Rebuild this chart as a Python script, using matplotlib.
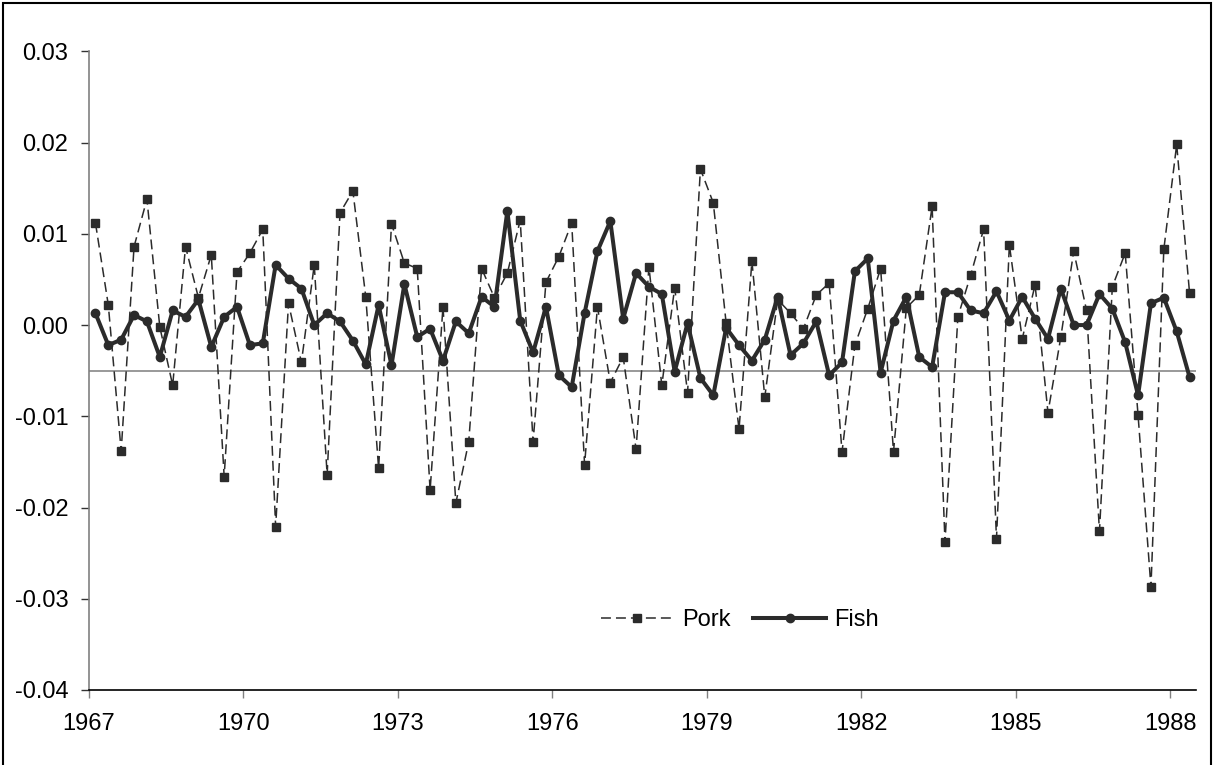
import numpy as np
import matplotlib
matplotlib.use("Agg")
import matplotlib.pyplot as plt
from matplotlib.patches import Rectangle

plt.rcParams['font.family'] = ['Liberation Sans', 'DejaVu Sans']

start_year = 1967
pork = [0.0112, 0.0022, -0.0138, 0.0086, 0.0138, -0.0002, -0.0066, 0.0086, 0.0030, 0.0077,
        -0.0166, 0.0058, 0.0079, 0.0105, -0.0221, 0.0024, -0.0041, 0.0066, -0.0164, 0.0123,
        0.0147, 0.0031, -0.0157, 0.0111, 0.0068, 0.0062, -0.0181, 0.0020, -0.0195, -0.0128,
        0.0062, 0.0030, 0.0057, 0.0115, -0.0128, 0.0047, 0.0075, 0.0112, -0.0153, 0.0020,
        -0.0063, -0.0035, -0.0136, 0.0064, -0.0066, 0.0041, -0.0074, 0.0171, 0.0134, 0.0002,
        -0.0114, 0.0070, -0.0079, 0.0028, 0.0013, -0.0004, 0.0033, 0.0046, -0.0139, -0.0022,
        0.0018, 0.0062, -0.0139, 0.0019, 0.0033, 0.0130, -0.0238, 0.0009, 0.0055, 0.0105,
        -0.0234, 0.0088, -0.0015, 0.0044, -0.0096, -0.0013, 0.0081, 0.0016, -0.0226, 0.0042,
        0.0079, -0.0099, -0.0287, 0.0083, 0.0198, 0.0035]
fish = [0.0013, -0.0022, -0.0016, 0.0011, 0.0004, -0.0035, 0.0016, 0.0009, 0.0028, -0.0024,
        0.0009, 0.0020, -0.0022, -0.0020, 0.0066, 0.0051, 0.0040, 0.0000, 0.0013, 0.0004,
        -0.0017, -0.0043, 0.0022, -0.0044, 0.0045, -0.0013, -0.0004, -0.0039, 0.0004, -0.0009,
        0.0031, 0.0020, 0.0125, 0.0005, -0.0030, 0.0020, -0.0055, -0.0068, 0.0013, 0.0081,
        0.0114, 0.0007, 0.0057, 0.0042, 0.0034, -0.0051, 0.0002, -0.0058, -0.0077, -0.0003,
        -0.0022, -0.0039, -0.0016, 0.0031, -0.0033, -0.0020, 0.0004, -0.0055, -0.0041, 0.0059,
        0.0073, -0.0052, 0.0005, 0.0031, -0.0035, -0.0046, 0.0036, 0.0036, 0.0016, 0.0013,
        0.0037, 0.0005, 0.0031, 0.0007, -0.0015, 0.0040, 0.0000, 0.0000, 0.0034, 0.0018,
        -0.0019, -0.0077, 0.0024, 0.0030, -0.0007, -0.0057]
year_ticks = [1967, 1970, 1973, 1976, 1979, 1982, 1985, 1988]
y_ticks = [-0.04, -0.03, -0.02, -0.01, 0.00, 0.01, 0.02, 0.03]
y_tick_labels = ['-0.04', '-0.03', '-0.02', '-0.01', '0.00', '0.01', '0.02', '0.03']
ref_level = -0.005

n = len(pork)
t = start_year + (np.arange(n) + 0.5) / 4.0

W, H = 1224, 765
fig = plt.figure(figsize=(W / 100, H / 100), dpi=100)
ax = fig.add_axes([89 / W, 1 - 690 / H, (1196 - 89) / W, (690 - 51.4) / H])

ax.axhline(ref_level, color='#999999', lw=1.4, zorder=1)

ax.plot(t, pork, color='#2b2b2b', lw=1.1, dashes=(6.5, 3.3),
        marker='s', ms=5.2, mec='#2b2b2b', mfc='#2b2b2b', label='Pork', zorder=2)
ax.plot(t, fish, color='#2b2b2b', lw=2.9, solid_joinstyle='round',
        marker='o', ms=6, mec='#2b2b2b', mfc='#2b2b2b', label='Fish', zorder=3)

ax.set_xlim(1967, 1988.5)
ax.set_ylim(-0.04, 0.03)
ax.set_xticks(year_ticks)
ax.set_xticklabels([str(y) for y in year_ticks])
ax.set_yticks(y_ticks)
ax.set_yticklabels(y_tick_labels)

for s in ['top', 'right']:
    ax.spines[s].set_visible(False)
ax.spines['left'].set_color('#808080')
ax.spines['left'].set_linewidth(1.2)
ax.spines['bottom'].set_color('black')
ax.spines['bottom'].set_linewidth(1.2)

ax.tick_params(axis='x', direction='out', length=5.5, width=1, color='#808080',
               labelsize=17, pad=11, labelcolor='black')
ax.tick_params(axis='y', direction='out', length=6, width=1, color='#333333',
               labelsize=17, pad=9, labelcolor='black')

leg = ax.legend(loc='center', bbox_to_anchor=(740 / W, 1 - 620 / H),
                bbox_transform=fig.transFigure, ncol=2, frameon=False,
                fontsize=17, handlelength=3.1, handletextpad=0.35,
                columnspacing=0.95, numpoints=1)

fig.patches.append(Rectangle((3 / W, -0.05), (1211 - 3) / W, 1.05 - 3 / H,
                             transform=fig.transFigure, fill=False,
                             edgecolor='black', lw=1.5, zorder=10))

fig.savefig('out.png', dpi=100)
